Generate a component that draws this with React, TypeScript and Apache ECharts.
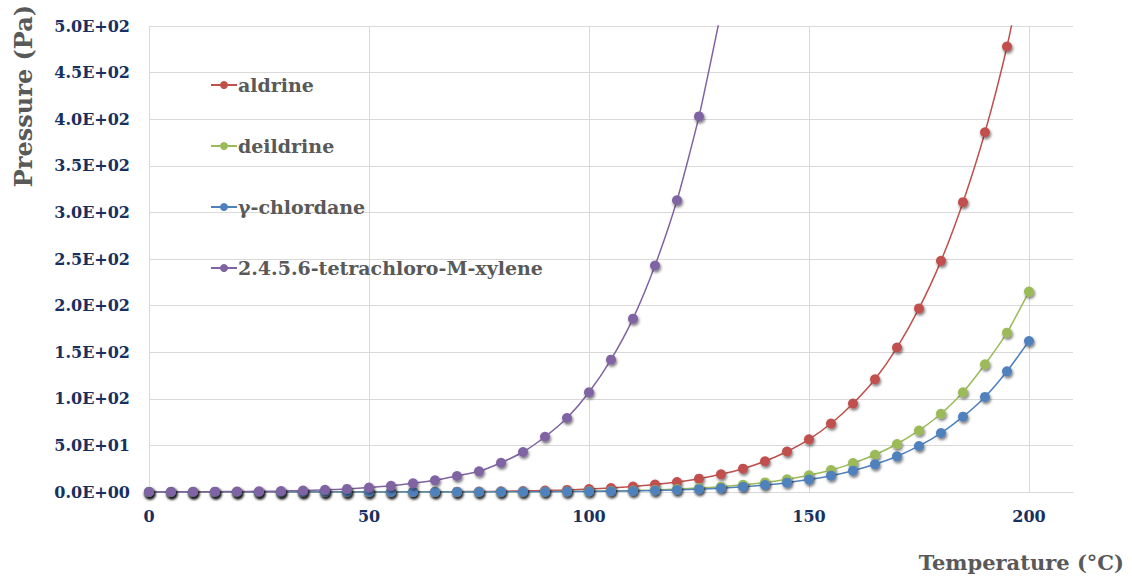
import React, { useEffect, useRef } from "react";
import * as echarts from "echarts";

const temps = [0, 5, 10, 15, 20, 25, 30, 35, 40, 45, 50, 55, 60, 65, 70, 75, 80, 85, 90, 95, 100, 105, 110, 115, 120, 125, 130, 135, 140, 145, 150, 155, 160, 165, 170, 175, 180, 185, 190, 195, 200];

const aldrine = [0.0007, 0.001, 0.002, 0.003, 0.005, 0.008, 0.013, 0.02, 0.03, 0.05, 0.08, 0.12, 0.17, 0.26, 0.38, 0.55, 0.8, 1.1, 1.6, 2.2, 3.1, 4.3, 5.9, 8.0, 10.7, 14.3, 19, 25, 33, 43.5, 56.5, 73.5, 95, 121, 155, 197, 248, 311, 386, 478, 593];

const deildrine = [0.0002, 0.0003, 0.0005, 0.0008, 0.0013, 0.002, 0.003, 0.005, 0.008, 0.012, 0.018, 0.027, 0.04, 0.06, 0.09, 0.13, 0.19, 0.28, 0.4, 0.58, 0.82, 1.15, 1.6, 2.2, 3.1, 4.2, 5.7, 7.7, 10.3, 13.7, 18, 23.5, 31, 40, 51.5, 66, 84, 107, 137, 171, 215];

const chlordane = [0.00015, 0.00025, 0.0004, 0.0006, 0.001, 0.0016, 0.0025, 0.004, 0.006, 0.009, 0.013, 0.02, 0.03, 0.044, 0.065, 0.095, 0.14, 0.2, 0.29, 0.41, 0.58, 0.82, 1.15, 1.6, 2.2, 3.0, 4.1, 5.6, 7.5, 10, 13.3, 17.5, 22.9, 29.7, 38.3, 49.4, 63.3, 80.8, 102, 129.5, 162];

const tetrachloroTemps = [0, 5, 10, 15, 20, 25, 30, 35, 40, 45, 50, 55, 60, 65, 70, 75, 80, 85, 90, 95, 100, 105, 110, 115, 120, 125, 130];
const tetrachloro = [0.09, 0.14, 0.22, 0.34, 0.5, 0.75, 1.1, 1.6, 2.3, 3.3, 4.7, 6.6, 9.3, 12.5, 17.2, 22.2, 31.4, 42.9, 59.3, 79.4, 107, 142, 186, 243, 313, 403, 515];

const seriesNames = ["aldrine", "deildrine", "γ-chlordane", "2.4.5.6-tetrachloro-M-xylene"];
const seriesColors = ["#C0504D", "#9BBB59", "#4F81BD", "#8064A2"];

const xTitle = "Temperature (°C)";
const yTitle = "Pressure (Pa)";

const FONT = "'DejaVu Serif', serif";

function sci(v: number): string {
  if (v === 0) return "0.0E+00";
  let e = Math.floor(Math.log10(Math.abs(v)) + 1e-9);
  let m = v / Math.pow(10, e);
  if (Math.abs(m) >= 9.95) {
    e += 1;
    m = v / Math.pow(10, e);
  }
  return m.toFixed(1) + "E" + (e < 0 ? "-" : "+") + String(Math.abs(e)).padStart(2, "0");
}

export default function App() {
  const ref = useRef<HTMLDivElement>(null);
  useEffect(() => {
    if (!ref.current) return;
    const chart = echarts.init(ref.current, undefined, { renderer: "svg" });
    const datasets = [
      temps.map((t, i) => [t, aldrine[i]]),
      temps.map((t, i) => [t, deildrine[i]]),
      temps.map((t, i) => [t, chlordane[i]]),
      tetrachloroTemps.map((t, i) => [t, tetrachloro[i]]),
    ];
    chart.setOption({
      animation: false,
      backgroundColor: "#ffffff",
      grid: { left: 149, right: 59, top: 26, bottom: 85, containLabel: false },
      legend: {
        orient: "vertical",
        left: 205,
        top: 70,
        itemGap: 41,
        itemWidth: 26,
        itemHeight: 10,
        data: seriesNames,
        textStyle: {
          fontFamily: FONT,
          fontWeight: "bold",
          fontSize: 19,
          color: "#595959",
          lineHeight: 20,
          padding: [0, 0, 0, -4],
        },
      },
      xAxis: {
        type: "value",
        min: 0,
        max: 210,
        interval: 50,
        axisLine: { show: true, lineStyle: { color: "#d9d9d9", width: 1 } },
        axisTick: { show: false },
        splitLine: { show: true, showMaxLine: false, lineStyle: { color: "#d9d9d9", width: 1 } },
        axisLabel: {
          showMaxLabel: false,
          margin: 16,
          fontFamily: FONT,
          fontWeight: "bold",
          fontSize: 16,
          color: "#17305F",
        },
      },
      yAxis: {
        type: "value",
        min: 0,
        max: 500,
        interval: 50,
        axisLine: { show: true, lineStyle: { color: "#d9d9d9", width: 1 } },
        axisTick: { show: false },
        splitLine: { show: true, lineStyle: { color: "#d9d9d9", width: 1 } },
        axisLabel: {
          margin: 19,
          fontFamily: FONT,
          fontWeight: "bold",
          fontSize: 16,
          color: "#17305F",
          formatter: (v: number) => sci(v),
        },
      },
      graphic: [
        {
          type: "text",
          x: 23,
          y: 96,
          rotation: Math.PI / 2,
          style: {
            text: yTitle,
            fontFamily: FONT,
            fontWeight: "bold",
            fontSize: 24,
            fill: "#595959",
            textAlign: "center",
            textVerticalAlign: "middle",
          },
        },
        {
          type: "text",
          x: 1124,
          y: 562,
          style: {
            text: xTitle,
            fontFamily: FONT,
            fontWeight: "bold",
            fontSize: 21,
            fill: "#595959",
            textAlign: "right",
            textVerticalAlign: "middle",
          },
        },
      ],
      series: seriesNames.map((name, i) => ({
        name,
        type: "line",
        data: datasets[i],
        smooth: 0.2,
        clip: true,
        symbol: "circle",
        symbolSize: 10,
        color: seriesColors[i],
        lineStyle: { color: seriesColors[i], width: 1.5 },
        itemStyle: {
          color: seriesColors[i],
          shadowColor: "rgba(0,0,0,0.55)",
          shadowBlur: 3,
          shadowOffsetX: 1,
          shadowOffsetY: 2,
        },
        emphasis: { disabled: true },
      })),
    });
    return () => chart.dispose();
  }, []);
  return <div ref={ref} style={{ width: 1132, height: 577, position: "absolute", left: 0, top: 0 }} />;
}
